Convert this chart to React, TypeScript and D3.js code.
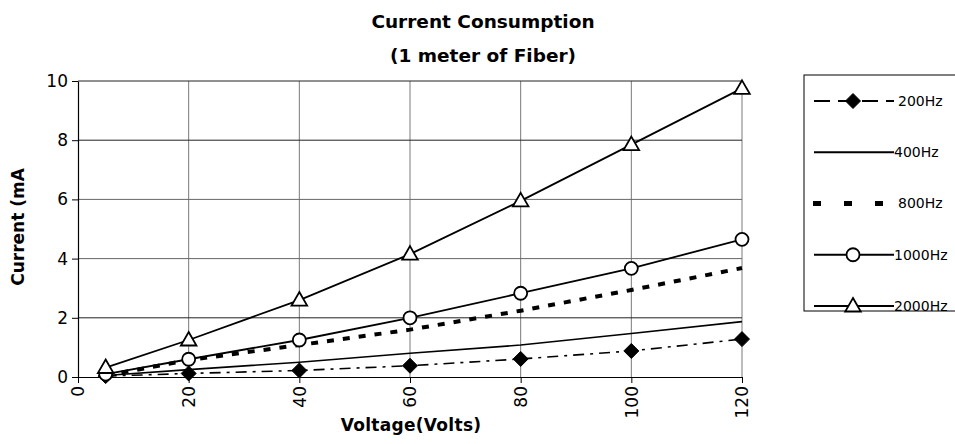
import { useEffect, useRef } from 'react'
import * as d3 from 'd3'

const voltages = [5, 20, 40, 60, 80, 100, 120]
const hz200 = [0.03, 0.12, 0.22, 0.38, 0.61, 0.88, 1.28]
const hz400 = [0.05, 0.25, 0.5, 0.8, 1.08, 1.47, 1.87]
const hz800 = [0.05, 0.57, 1.08, 1.6, 2.24, 2.94, 3.68]
const hz1000 = [0.1, 0.6, 1.25, 2.0, 2.83, 3.67, 4.65]
const hz2000 = [0.32, 1.25, 2.6, 4.15, 5.95, 7.85, 9.75]
const xTicks = [0, 20, 40, 60, 80, 100, 120]
const yTicks = [0, 2, 4, 6, 8, 10]

const series = [
  { name: '200Hz', values: hz200, dash: '11,6,3,6', width: 1.6, marker: 'diamond' },
  { name: '400Hz', values: hz400, dash: null, width: 1.6, marker: null },
  { name: '800Hz', values: hz800, dash: '7,9', width: 4, marker: null },
  { name: '1000Hz', values: hz1000, dash: null, width: 1.8, marker: 'circle' },
  { name: '2000Hz', values: hz2000, dash: null, width: 1.8, marker: 'triangle' }
]

const font = 'Tahoma, "DejaVu Sans", Verdana, sans-serif'

export default function App() {
  const svgRef = useRef<SVGSVGElement>(null)

  useEffect(() => {
    if (!svgRef.current) return
    const root = d3.select(svgRef.current)
    root.selectAll('*').remove()

    const x = d3.scaleLinear().domain([0, 120]).range([78, 742])
    const y = d3.scaleLinear().domain([0, 10]).range([377, 81])

    // grid
    const grid = root.append('g').attr('stroke', '#7a7a7a').attr('stroke-width', 1)
    xTicks.slice(1).forEach(t => {
      grid.append('line').attr('x1', x(t)).attr('x2', x(t)).attr('y1', y(0)).attr('y2', y(10))
    })
    yTicks.slice(1).forEach(t => {
      grid.append('line').attr('x1', x(0)).attr('x2', x(120)).attr('y1', y(t)).attr('y2', y(t))
        .attr('stroke', t === 4 || t === 6 ? '#666' : '#222')
    })

    // axes
    const xAxis = root.append('g')
      .attr('transform', `translate(0,${y(0)})`)
      .call(d3.axisBottom(x).tickValues(xTicks).tickSize(6).tickSizeOuter(0))
    xAxis.select('.domain').attr('stroke', '#000').attr('stroke-width', 1.2)
    xAxis.selectAll('.tick line').attr('stroke', '#000')
    xAxis.selectAll('text')
      .attr('font-family', font)
      .attr('font-size', 17)
      .attr('fill', '#000')
      .attr('transform', 'rotate(-90)')
      .attr('text-anchor', 'end')
      .attr('x', -9)
      .attr('y', 0)
      .attr('dy', '0.35em')

    const yAxis = root.append('g')
      .attr('transform', `translate(${x(0)},0)`)
      .call(d3.axisLeft(y).tickValues(yTicks).tickSize(6).tickSizeOuter(0))
    yAxis.select('.domain').attr('stroke', '#000').attr('stroke-width', 1.2)
    yAxis.selectAll('.tick line').attr('stroke', '#000')
    yAxis.selectAll('text')
      .attr('font-family', font)
      .attr('font-size', 17)
      .attr('fill', '#000')
      .attr('x', -10)

    // lines
    const line = d3.line<number>()
      .x((_, i) => x(voltages[i]))
      .y(d => y(d))

    const symTri = d3.symbol().type(d3.symbolTriangle).size(105)

    const drawMarker = (g: any, kind: string | null, cx: number, cy: number) => {
      if (kind === 'diamond') {
        const r = 7.5
        g.append('path').attr('d', `M${cx},${cy - r}L${cx + r},${cy}L${cx},${cy + r}L${cx - r},${cy}Z`)
          .attr('fill', '#000').attr('stroke', '#000').attr('stroke-width', 1)
      } else if (kind === 'circle') {
        g.append('circle').attr('cx', cx).attr('cy', cy).attr('r', 6.5)
          .attr('fill', '#fff').attr('stroke', '#000').attr('stroke-width', 1.8)
      } else if (kind === 'triangle') {
        g.append('path').attr('d', symTri()).attr('transform', `translate(${cx},${cy + 1})`)
          .attr('fill', '#fff').attr('stroke', '#000').attr('stroke-width', 1.8)
      }
    }

    series.forEach(s => {
      const g = root.append('g')
      g.append('path')
        .datum(s.values)
        .attr('fill', 'none')
        .attr('stroke', '#000')
        .attr('stroke-width', s.width)
        .attr('stroke-dasharray', s.dash)
        .attr('d', line)
      s.values.forEach((v, i) => drawMarker(g, s.marker, x(voltages[i]), y(v)))
    })

    // titles
    const title = root.append('text')
      .attr('x', 483)
      .attr('text-anchor', 'middle')
      .attr('font-family', font)
      .attr('font-weight', 'bold')
      .attr('font-size', 18.5)
    title.append('tspan').attr('x', 483).attr('y', 28).text('Current Consumption')
    title.append('tspan').attr('x', 483).attr('y', 62).text('(1 meter of Fiber)')

    root.append('text')
      .attr('x', 411)
      .attr('y', 431)
      .attr('text-anchor', 'middle')
      .attr('font-family', font)
      .attr('font-weight', 'bold')
      .attr('font-size', 17)
      .attr('letter-spacing', 0.3)
      .text('Voltage(Volts)')

    root.append('text')
      .attr('transform', `translate(24,227) rotate(-90)`)
      .attr('text-anchor', 'middle')
      .attr('font-family', font)
      .attr('font-weight', 'bold')
      .attr('font-size', 17)
      .text('Current (mA')

    // legend
    const legend = root.append('g')
    legend.append('rect')
      .attr('x', 804).attr('y', 75).attr('width', 200).attr('height', 236)
      .attr('fill', '#fff').attr('stroke', '#000').attr('stroke-width', 1)
    const legendY = d3.scalePoint<string>().domain(series.map(s => s.name)).range([101, 306])
    series.forEach(s => {
      const ly = legendY(s.name) as number
      const lg = legend.append('g')
      lg.append('line')
        .attr('x1', s.name === '800Hz' ? 813 : 814).attr('x2', s.name === '800Hz' ? 886 : 894)
        .attr('y1', ly).attr('y2', ly)
        .attr('stroke', '#000')
        .attr('stroke-width', s.name === '800Hz' ? 5 : 1.8)
        .attr('stroke-dasharray', s.name === '800Hz' ? '8,23' : s.name === '200Hz' ? '16,8' : null)
      drawMarker(lg, s.marker, 853, ly)
      lg.append('text')
        .attr('x', s.name === '200Hz' || s.name === '800Hz' ? 898 : 894)
        .attr('y', ly)
        .attr('dy', '0.35em')
        .attr('font-family', font)
        .attr('font-size', 14)
        .text(s.name)
    })
  }, [])

  return (
    <svg ref={svgRef} width={955} height={444}
      style={{ position: 'absolute', left: 0, top: 0, background: '#fff' }} />
  )
}
